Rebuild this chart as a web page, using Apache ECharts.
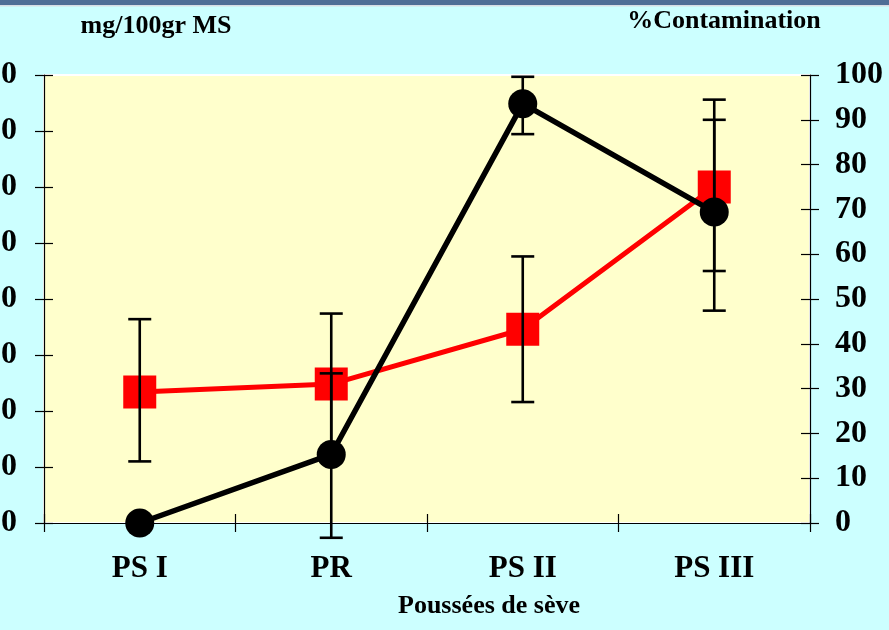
<!DOCTYPE html>
<html>
<head>
<meta charset="utf-8">
<script src="https://cdn.jsdelivr.net/npm/echarts@6/dist/echarts.min.js"></script>
<style>
html,body{margin:0;padding:0;background:#ccffff;}
#chart{width:889px;height:630px;}
</style>
</head>
<body>
<div id="chart"></div>
<script>
// ---- data ----
const categories = ['PS I', 'PR', 'PS II', 'PS III'];
// red squares, left axis (mg/100gr MS)
const mgValues = [117, 124, 173, 300];
const mgLow    = [55, 61, 108, 225];
const mgHigh   = [182, 187, 238, 378];
// black circles, right axis (%Contamination)
const contValues = [0, 15.3, 93.6, 69.4];
const contLow    = [null, -3.3, 86.8, 47.4];
const contHigh   = [null, 33.4, 99.6, 90];
// axis ticks
const leftAxis  = {min: 0, max: 400, interval: 50};
const rightAxis = {min: 0, max: 100, interval: 10};
const leftTitle = 'mg/100gr MS';
const rightTitle = '%Contamination';
const xTitle = 'Poussées de sève';

const FONT = '"Liberation Serif","Times New Roman",serif';

function errData(lo, hi) {
  const out = [];
  for (let i = 0; i < lo.length; i++) {
    if (lo[i] == null || hi[i] == null) continue;
    out.push([i, lo[i], hi[i]]);
  }
  return out;
}

function errRender(params, api) {
  const i = api.value(0);
  const p1 = api.coord([i, api.value(1)]);
  const p2 = api.coord([i, api.value(2)]);
  const h = 11.5;
  const st = {stroke: '#000', lineWidth: 2.6};
  return {
    type: 'group',
    children: [
      {type: 'line', shape: {x1: p1[0], y1: p1[1], x2: p2[0], y2: p2[1]}, style: st},
      {type: 'line', shape: {x1: p1[0] - h, y1: p1[1], x2: p1[0] + h, y2: p1[1]}, style: st},
      {type: 'line', shape: {x1: p2[0] - h, y1: p2[1], x2: p2[0] + h, y2: p2[1]}, style: st}
    ]
  };
}

const axisLineStyle = {color: '#000', width: 1.2};
const labelStyle = {color: '#000', fontFamily: FONT, fontWeight: 'bold', fontSize: 32};

const chart = echarts.init(document.getElementById('chart'), null, {renderer: 'canvas'});
chart.setOption({
  backgroundColor: '#ccffff',
  animation: false,
  grid: {
    left: 44, right: 79, top: 75, bottom: 107,
    containLabel: false, outerBoundsMode: 'none',
    show: true, backgroundColor: '#ffffcc', borderColor: '#ffffff', borderWidth: 2
  },
  graphic: [
    {type: 'rect', shape: {x: 0, y: 0, width: 889, height: 6}, style: {fill: '#4f6e96'}, z: 10},
    {type: 'rect', shape: {x: 0, y: 5, width: 889, height: 1.5}, style: {fill: '#d8dde4'}, z: 10},
    {type: 'text', style: {text: leftTitle, x: 156, y: 26, align: 'center', verticalAlign: 'middle',
      font: 'bold 26px ' + FONT, fill: '#000'}},
    {type: 'text', style: {text: rightTitle, x: 724, y: 21, align: 'center', verticalAlign: 'middle',
      font: 'bold 26px ' + FONT, fill: '#000'}},
    {type: 'text', style: {text: xTitle, x: 489, y: 606, align: 'center', verticalAlign: 'middle',
      font: 'bold 26px ' + FONT, fill: '#000'}}
  ],
  xAxis: [
    {
      type: 'category', data: categories, boundaryGap: true, position: 'bottom',
      axisLine: {show: true, lineStyle: axisLineStyle},
      axisTick: {show: true, length: 9, inside: false, lineStyle: axisLineStyle},
      axisLabel: Object.assign({margin: 30, interval: 0}, labelStyle, {fontSize: 31}),
      splitLine: {show: false}
    },
    {
      type: 'category', data: categories, boundaryGap: true, position: 'bottom',
      axisLine: {show: false},
      axisTick: {show: true, length: 9, inside: true, lineStyle: axisLineStyle},
      axisLabel: {show: false},
      splitLine: {show: false}
    }
  ],
  yAxis: [
    {
      type: 'value', position: 'left', min: leftAxis.min, max: leftAxis.max, interval: leftAxis.interval,
      axisLine: {show: true, lineStyle: axisLineStyle},
      axisTick: {show: true, length: 9, inside: false, lineStyle: axisLineStyle},
      axisLabel: Object.assign({margin: 27}, labelStyle),
      splitLine: {show: false}
    },
    {
      type: 'value', position: 'left', min: leftAxis.min, max: leftAxis.max, interval: leftAxis.interval,
      axisLine: {show: false},
      axisTick: {show: true, length: 9, inside: true, lineStyle: axisLineStyle},
      axisLabel: {show: false},
      splitLine: {show: false}
    },
    {
      type: 'value', position: 'right', min: rightAxis.min, max: rightAxis.max, interval: rightAxis.interval,
      axisLine: {show: true, lineStyle: axisLineStyle},
      axisTick: {show: true, length: 9, inside: false, lineStyle: axisLineStyle},
      axisLabel: Object.assign({margin: 25}, labelStyle),
      splitLine: {show: false}
    },
    {
      type: 'value', position: 'right', min: rightAxis.min, max: rightAxis.max, interval: rightAxis.interval,
      axisLine: {show: false},
      axisTick: {show: true, length: 9, inside: true, lineStyle: axisLineStyle},
      axisLabel: {show: false},
      splitLine: {show: false}
    }
  ],
  series: [
    {
      name: leftTitle, type: 'line', xAxisIndex: 0, yAxisIndex: 0, data: mgValues,
      symbol: 'rect', symbolSize: 33, z: 2,
      lineStyle: {color: '#ff0000', width: 5},
      itemStyle: {color: '#ff0000'}
    },
    {
      type: 'custom', xAxisIndex: 0, yAxisIndex: 0, data: errData(mgLow, mgHigh),
      encode: {x: 0, y: [1, 2]}, renderItem: errRender, clip: false, z: 3
    },
    {
      type: 'custom', xAxisIndex: 0, yAxisIndex: 2, data: errData(contLow, contHigh),
      encode: {x: 0, y: [1, 2]}, renderItem: errRender, clip: false, z: 3
    },
    {
      name: rightTitle, type: 'line', xAxisIndex: 0, yAxisIndex: 2, data: contValues,
      symbol: 'circle', symbolSize: 29, z: 4,
      lineStyle: {color: '#000000', width: 5.5},
      itemStyle: {color: '#000000'}
    }
  ]
});
</script>
</body>
</html>
